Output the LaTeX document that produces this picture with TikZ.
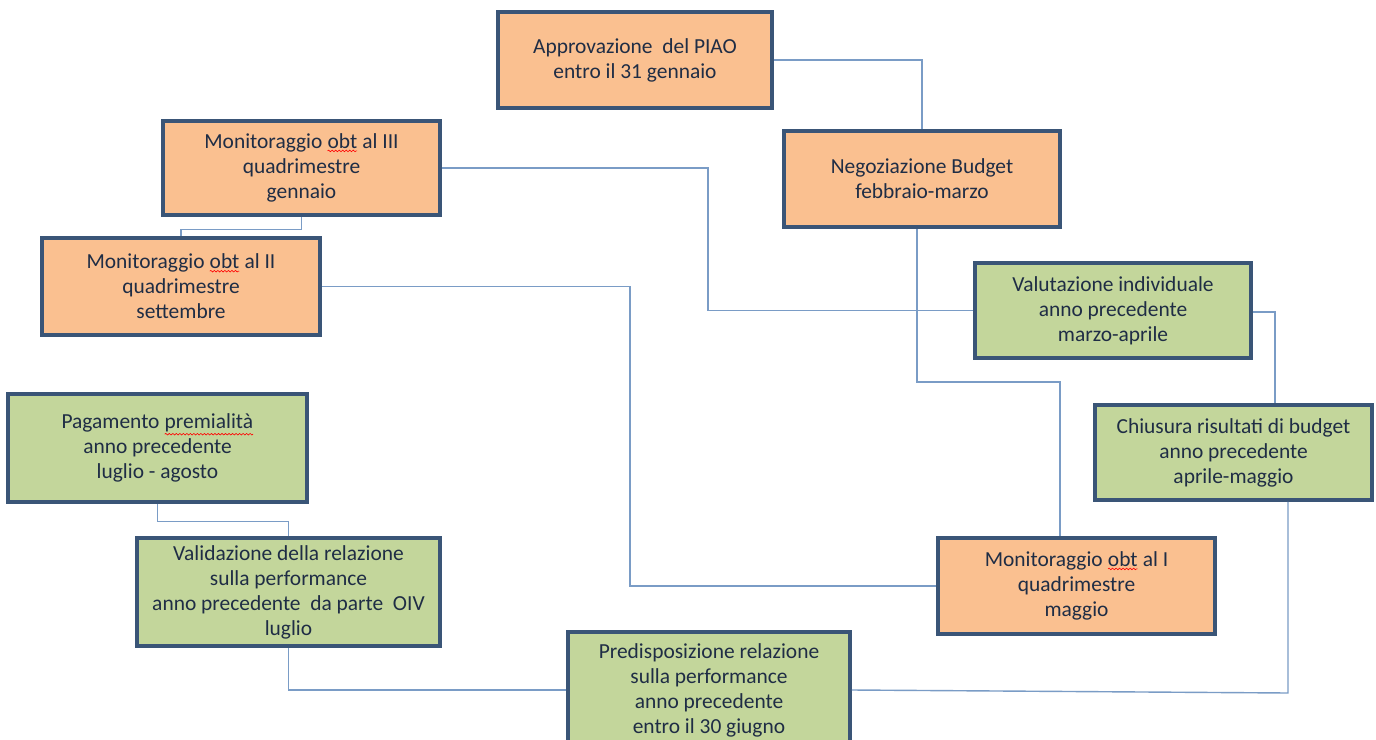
\documentclass[tikz,border=0pt]{standalone}
\usepackage{fontspec}
\setmainfont{Carlito}
\usetikzlibrary{decorations.pathmorphing}
\definecolor{orf}{HTML}{FAC090}
\definecolor{grf}{HTML}{C3D69B}
\definecolor{bord}{HTML}{3A5577}
\definecolor{lnk}{HTML}{7A9CC6}
\definecolor{txt}{HTML}{1F2D45}
\newcommand\squig[1]{\tikz[baseline=(w.base)]{\node[inner sep=0pt,outer sep=0pt,minimum width=0pt,minimum height=0pt,draw=none,fill=none,anchor=base](w){#1};\draw[red,line width=0.35pt,decorate,decoration={snake,amplitude=0.45pt,segment length=2pt}] ([yshift=-1.2pt]w.south west) -- ([yshift=-1.2pt]w.south east);}}
\begin{document}
\begin{tikzpicture}[x=0.02cm,y=-0.02cm,
  box/.style={draw=bord,line width=2pt,align=center,text=txt,inner sep=0pt,
    font=\fontsize{12.2}{14.2}\selectfont},
  sz/.style 2 args={minimum width=#1*0.02cm,minimum height=#2*0.02cm},
  ob/.style={box,fill=orf},
  gb/.style={box,fill=grf},
  link/.style={draw=lnk,line width=0.8pt}]
\useasboundingbox (0,0) rectangle (1376,740);
\fill[white] (0,0) rectangle (1376,740);
\coordinate (c1) at (708,168);
\coordinate (c2) at (630,287);
\coordinate (c3) at (917,382);
\coordinate (c4) at (1060,382);
\coordinate (c5) at (1275,312);
\coordinate (c6) at (1288,693);
% nodes
\node[ob,sz={274}{96}] (piao) at (635,60) {Approvazione \ del PIAO\\entro il 31 gennaio};
\node[ob,sz={277}{94}] (m3) at (301.5,168) {Monitoraggio \squig{obt} al III\\quadrimestre\\gennaio};
\node[ob,sz={276}{96}] (neg) at (922,179) {Negoziazione Budget\\febbraio-marzo};
\node[ob,sz={278}{97}] (m2) at (181,286.5) {Monitoraggio \squig{obt} al II\\quadrimestre\\settembre};
\node[gb,sz={276}{95}] (val) at (1113,310.5) {Valutazione individuale\\anno precedente\\marzo-aprile};
\node[gb,sz={299}{108}] (pag) at (157.5,448) {Pagamento \squig{premialità}\\anno precedente\\luglio - agosto};
\node[gb,sz={277}{95}] (chi) at (1233.5,452.5) {Chiusura risultati di budget\\anno precedente\\aprile-maggio};
\node[gb,sz={303}{108}] (vld) at (288.5,592) {Validazione della relazione\\sulla performance\\anno precedente \ da parte \ OIV\\luglio};
\node[ob,sz={277}{96}] (m1) at (1076.5,586) {Monitoraggio \squig{obt} al I\\quadrimestre\\maggio};
\node[gb,sz={282}{116}] (pd) at (709,690) {Predisposizione relazione\\sulla performance\\anno precedente\\entro il 30 giugno};
% connectors
\draw[link] (piao.east) -| (neg.north);
\draw[link] (m3.east) -- (c1) |- (val.west);
\draw[link] (m3.south) -- ++(0,13) -| (m2.north);
\draw[link] (m2.east) -- (m2.east -| c2) |- (m1.west);
\draw[link] (neg.south -| c3) -- (c3) -- (c4) -- (m1.north -| c4);
\draw[link] (val.east |- c5) -- (c5) -- (chi.north -| c5);
\draw[link] (chi.south -| c6) -- (c6) -- (pd.east);
\draw[link] (pag.south) -- ++(0,18) -| (vld.north);
\draw[link] (vld.south) |- (pd.west);
\end{tikzpicture}
\end{document}
